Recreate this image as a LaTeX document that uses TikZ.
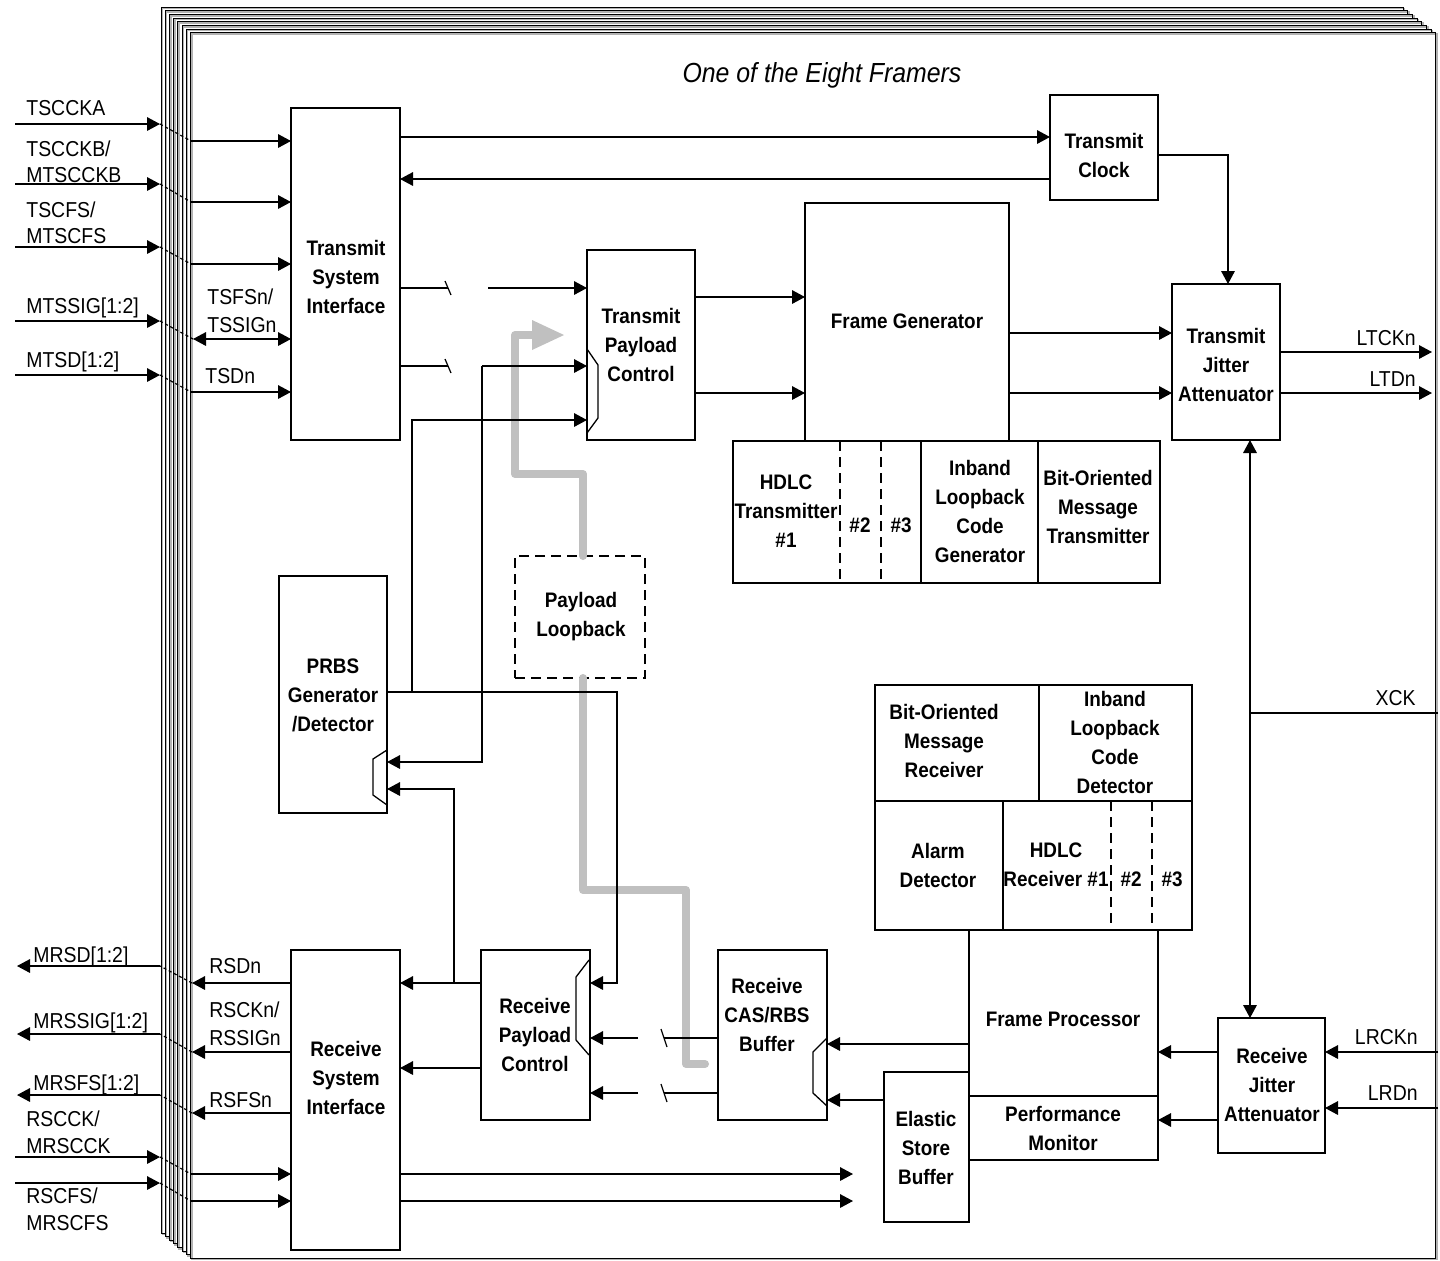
\documentclass[tikz,border=0pt]{standalone}
\usepackage{fontspec}
\setmainfont{Liberation Sans}[FakeStretch=0.9]
\usetikzlibrary{arrows.meta,fit}
\definecolor{lpgray}{RGB}{192,192,192}
\begin{document}
\begin{tikzpicture}[x=0.5pt,y=-0.5pt,
  box/.style={draw, line width=0.75pt, fill=white, inner sep=0pt, outer sep=0pt},
  cell/.style={draw, line width=0.75pt, inner sep=0pt, outer sep=0pt},
  dbox/.style={draw, line width=0.75pt, dash pattern=on 5pt off 3pt, inner sep=0pt, outer sep=0pt},
  btxt/.style={align=center, inner sep=0pt, font=\bfseries\fontsize{10.5pt}{14.5pt}\selectfont},
  ltxt/.style={anchor=base west, inner sep=0pt, font=\fontsize{10.8pt}{14.5pt}\selectfont},
  rtxt/.style={anchor=base east, inner sep=0pt, font=\fontsize{10.8pt}{14.5pt}\selectfont},
  wire/.style={line width=0.65pt},
  arr/.style={wire, -{Triangle[length=6.5pt,width=6.8pt]}},
  darr/.style={wire, {Triangle[length=6.5pt,width=6.8pt]}-{Triangle[length=6.5pt,width=6.8pt]}},
  xdash/.style={line width=0.6pt, dash pattern=on 1.6pt off 1.3pt},
  slash/.style={line width=0.6pt},
  dashdiv/.style={line width=0.65pt, dash pattern=on 5pt off 3pt},
  lpath/.style={line width=4pt, draw=lpgray, line join=round, line cap=round}
]
\useasboundingbox (0,0) rectangle (1440,1260);

% stacked pages
\foreach \i in {0,...,7}{
  \pgfmathsetmacro\pgL{161+4.2*\i}
  \pgfmathsetmacro\pgT{7+3.7*\i}
  \pgfmathsetmacro\pgR{1403+4.7*\i}
  \pgfmathsetmacro\pgB{1233+3.6*\i}
  \fill[white] (\pgL,\pgT) rectangle (\pgR+1.6,\pgB+1.6);
  \draw[gray!60, line width=0.8pt] (\pgL+1.3,\pgT+1.3) rectangle (\pgR+1.3,\pgB+1.3);
  \draw[line width=0.45pt] (\pgL,\pgT) rectangle (\pgR,\pgB);
}

\node[anchor=base, inner sep=0pt, font=\itshape\fontsize{13.8pt}{16pt}\selectfont] (title) at (822,82) {One of the Eight Framers};

% ---------- blocks ----------
\node[box, fit={(291,108)(400,440)}] (tsi) {};
\node[btxt] (tsit) at (346,277) {Transmit\\System\\Interface};
\node[box, fit={(1050,95)(1158,200)}] (tc) {};
\node[btxt] (tct) at (1104,155) {Transmit\\Clock};
\node[box, fit={(805,203)(1009,441)}] (fg) {};
\node[btxt] (fgt) at (907,321) {Frame Generator};
\node[box, fit={(587,250)(695,440)}] (tpc) {};
\node[btxt] (tpct) at (641,345) {Transmit\\Payload\\Control};
\node[box, fit={(1172,284)(1280,440)}] (tja) {};
\node[btxt] (tjat) at (1226,365) {Transmit\\Jitter\\Attenuator};

% HDLC transmit row
\node[cell, fit={(733,441)(921,583)}] (htx) {};
\node[cell, fit={(921,441)(1038,583)}] (ilg) {};
\node[cell, fit={(1038,441)(1160,583)}] (bomt) {};
\draw[dashdiv] (840,441) -- (840,583);
\draw[dashdiv] (881,441) -- (881,583);
\node[btxt] (htxt) at (786,511) {HDLC\\Transmitter\\\#1};
\node[btxt] (htx2) at (860,525) {\#2};
\node[btxt] (htx3) at (901,525) {\#3};
\node[btxt] (ilgt) at (980,511) {Inband\\Loopback\\Code\\Generator};
\node[btxt] (bomtt) at (1098,507) {Bit-Oriented\\Message\\Transmitter};

\node[box, fit={(279,576)(387,813)}] (prbs) {};
\node[btxt] (prbst) at (333,695) {PRBS\\Generator\\/Detector};
\node[dbox, fit={(515,556)(645,678)}] (plb) {};
\node[btxt] (plbt) at (581,617) {Payload\\Loopback};

% receiver group
\node[cell, fit={(875,685)(1039,801)}] (bomr) {};
\node[cell, fit={(1039,685)(1192,801)}] (ild) {};
\node[cell, fit={(875,801)(1003,930)}] (alm) {};
\node[cell, fit={(1003,801)(1192,930)}] (hrx) {};
\draw[dashdiv] (1111,801) -- (1111,930);
\draw[dashdiv] (1152,801) -- (1152,930);
\node[btxt] (bomrt) at (944,741) {Bit-Oriented\\Message\\Receiver};
\node[btxt] (ildt) at (1115,742) {Inband\\Loopback\\Code\\Detector};
\node[btxt] (almt) at (938,865) {Alarm\\Detector};
\node[btxt] (hrxt) at (1056,865) {HDLC\\Receiver \#1};
\node[btxt] (hrx2) at (1131,879) {\#2};
\node[btxt] (hrx3) at (1172,879) {\#3};

\node[box, fit={(969,930)(1158,1096)}] (fp) {};
\node[btxt] (fpt) at (1063,1019) {Frame Processor};
\node[box, fit={(969,1096)(1158,1160)}] (pm) {};
\node[btxt] (pmt) at (1063,1128) {Performance\\Monitor};
\node[box, fit={(884,1072)(969,1222)}] (esb) {};
\node[btxt] (esbt) at (926,1148) {Elastic\\Store\\Buffer};
\node[box, fit={(1218,1018)(1325,1153)}] (rja) {};
\node[btxt] (rjat) at (1272,1085) {Receive\\Jitter\\Attenuator};

\node[box, fit={(291,950)(400,1250)}] (rsi) {};
\node[btxt] (rsit) at (346,1078) {Receive\\System\\Interface};
\node[box, fit={(481,950)(590,1120)}] (rpc) {};
\node[btxt] (rpct) at (535,1035) {Receive\\Payload\\Control};
\node[box, fit={(718,950)(827,1120)}] (cas) {};
\node[btxt] (cast) at (767,1015) {Receive\\CAS/RBS\\Buffer};

% mux shapes
\draw[wire] (587,349) -- (598,365) -- (598,418) -- (587,433);
\draw[wire] (387,750) -- (373,759) -- (373,795) -- (387,805);
\draw[wire] (589,960) -- (576,977) -- (576,1040) -- (589,1055);
\draw[wire] (827,1038) -- (813,1052) -- (813,1093) -- (827,1106);

% ---------- payload loopback path ----------
\draw[lpath] (plb.north -| 583,0) -- (583,474) -- (515,474) -- (515,335) -- (540,335);
\fill[lpgray] (564,335) -- (532,320) -- (532,350) -- cycle;
\draw[lpath] (plb.south -| 583,0) -- (583,890) -- (686,890) -- (686,1064) -- (705,1064);

% ---------- left transmit inputs ----------
\foreach \yo/\yi [count=\k] in {124/141,184/202,247/264,375/392}{
  \coordinate (ti\k-a) at (15,\yo);
  \coordinate (ti\k-b) at (160,\yo);
  \coordinate (ti\k-c) at (191,\yi);
  \draw[arr] (ti\k-a) -- (ti\k-b);
  \draw[xdash] (ti\k-b) -- (ti\k-c);
  \draw[arr] (ti\k-c) -- (tsi.west |- ti\k-c);
}
\coordinate (sg-a) at (15,321);
\coordinate (sg-b) at (160,321);
\coordinate (sg-c) at (193,339);
\draw[arr] (sg-a) -- (sg-b);
\draw[xdash] (sg-b) -- (sg-c);
\draw[darr] (sg-c) -- (tsi.west |- sg-c);

\node[ltxt] (l1) at (26,115) {TSCCKA};
\node[ltxt] (l2) at (26,156) {TSCCKB/};
\node[ltxt] (l3) at (26,182) {MTSCCKB};
\node[ltxt] (l4) at (26,217) {TSCFS/};
\node[ltxt] (l5) at (26,243) {MTSCFS};
\node[ltxt] (l6) at (26,313) {MTSSIG[1:2]};
\node[ltxt] (l7) at (26,367) {MTSD[1:2]};
\node[ltxt] (l8) at (207,304) {TSFSn/};
\node[ltxt] (l9) at (207,332) {TSSIGn};
\node[ltxt] (l10) at (205,383) {TSDn};

% ---------- left receive outputs / inputs ----------
\foreach \yo/\yi [count=\k] in {966/983,1034/1052,1095/1113}{
  \coordinate (ro\k-a) at (17,\yo);
  \coordinate (ro\k-b) at (160,\yo);
  \coordinate (ro\k-c) at (192,\yi);
  \draw[arr] (rsi.west |- ro\k-c) -- (ro\k-c);
  \draw[xdash] (ro\k-c) -- (ro\k-b);
  \draw[arr] (ro\k-b) -- (ro\k-a);
}
\foreach \yo/\yi [count=\k] in {1157/1174,1183/1201}{
  \coordinate (ri\k-a) at (15,\yo);
  \coordinate (ri\k-b) at (160,\yo);
  \coordinate (ri\k-c) at (191,\yi);
  \draw[arr] (ri\k-a) -- (ri\k-b);
  \draw[xdash] (ri\k-b) -- (ri\k-c);
  \draw[arr] (ri\k-c) -- (rsi.west |- ri\k-c);
}
\node[ltxt] (m1) at (33,962) {MRSD[1:2]};
\node[ltxt] (m2) at (209,973) {RSDn};
\node[ltxt] (m3) at (209,1017) {RSCKn/};
\node[ltxt] (m4) at (209,1045) {RSSIGn};
\node[ltxt] (m5) at (33,1028) {MRSSIG[1:2]};
\node[ltxt] (m6) at (33,1090) {MRSFS[1:2]};
\node[ltxt] (m7) at (209,1107) {RSFSn};
\node[ltxt] (m8) at (26,1126) {RSCCK/};
\node[ltxt] (m9) at (26,1153) {MRSCCK};
\node[ltxt] (m10) at (26,1203) {RSCFS/};
\node[ltxt] (m11) at (26,1230) {MRSCFS};

% ---------- transmit internal connections ----------
\draw[arr] (tsi.east |- 0,137) -- (tc.west |- 0,137);
\draw[arr] (tc.west |- 0,179) -- (tsi.east |- 0,179);
\draw[arr] (tc.east |- 0,155) -| (tja.north -| 1228,0);

\coordinate (s1) at (448,288);
\coordinate (s2) at (448,366);
\coordinate (k1) at (488,288);
\coordinate (k2) at (482,366);
\draw[wire] (tsi.east |- s1) -- (s1);
\draw[slash] ([shift={(-3,-7)}]s1) -- ([shift={(3,7)}]s1);
\draw[arr] (k1) -- (tpc.west |- k1);
\draw[wire] (tsi.east |- s2) -- (s2);
\draw[slash] ([shift={(-3,-7)}]s2) -- ([shift={(3,7)}]s2);
\draw[arr] (k2) -- (tpc.west |- k2);
\draw[arr] (k2) -- (482,762) -- (prbs.east |- 0,762);

\coordinate (pj) at (412,692);
\draw[arr] (prbs.east |- pj) -- (617,692) -- (617,983) -- (rpc.east |- 0,983);
\draw[arr] (pj) -- (412,420) -- (tpc.west |- 0,420);

\draw[arr] (tpc.east |- 0,297) -- (fg.west |- 0,297);
\draw[arr] (tpc.east |- 0,393) -- (fg.west |- 0,393);
\draw[arr] (fg.east |- 0,333) -- (tja.west |- 0,333);
\draw[arr] (fg.east |- 0,393) -- (tja.west |- 0,393);

\coordinate (o1) at (1432,352);
\coordinate (o2) at (1432,393);
\draw[arr] (tja.east |- o1) -- (o1);
\draw[arr] (tja.east |- o2) -- (o2);
\node[rtxt] (r1) at (1416,345) {LTCKn};
\node[rtxt] (r2) at (1416,386) {LTDn};

\draw[darr] (tja.south -| 1250,0) -- (rja.north -| 1250,0);
\coordinate (xck) at (1438,713);
\draw[wire] (xck) -- (1250,713);
\node[rtxt] (r3) at (1416,705) {XCK};

% ---------- receive internal connections ----------
\coordinate (ir1) at (1438,1052);
\coordinate (ir2) at (1438,1108);
\draw[arr] (ir1) -- (rja.east |- ir1);
\draw[arr] (ir2) -- (rja.east |- ir2);
\node[rtxt] (r4) at (1418,1044) {LRCKn};
\node[rtxt] (r5) at (1418,1100) {LRDn};
\draw[arr] (rja.west |- 0,1052) -- (fp.east |- 0,1052);
\draw[arr] (rja.west |- 0,1120) -- (pm.east |- 0,1120);

\draw[arr] (fp.west |- 0,1044) -- (cas.east |- 0,1044);
\draw[arr] (esb.west |- 0,1100) -- (cas.east |- 0,1100);

\coordinate (s3) at (664,1038);
\coordinate (s4) at (664,1093);
\coordinate (k3) at (638,1038);
\coordinate (k4) at (638,1093);
\draw[wire] (cas.west |- s3) -- (s3);
\draw[slash] ([shift={(-3,-9)}]s3) -- ([shift={(3,9)}]s3);
\draw[arr] (k3) -- (rpc.east |- k3);
\draw[wire] (cas.west |- s4) -- (s4);
\draw[slash] ([shift={(-3,-9)}]s4) -- ([shift={(3,9)}]s4);
\draw[arr] (k4) -- (rpc.east |- k4);

\coordinate (rj) at (454,983);
\draw[arr] (rpc.west |- rj) -- (rsi.east |- rj);
\draw[arr] (rj) -- (454,789) -- (prbs.east |- 0,789);
\draw[arr] (rpc.west |- 0,1068) -- (rsi.east |- 0,1068);

\coordinate (e1) at (853,1174);
\coordinate (e2) at (853,1201);
\draw[arr] (rsi.east |- e1) -- (e1);
\draw[arr] (rsi.east |- e2) -- (e2);
\end{tikzpicture}
\end{document}
